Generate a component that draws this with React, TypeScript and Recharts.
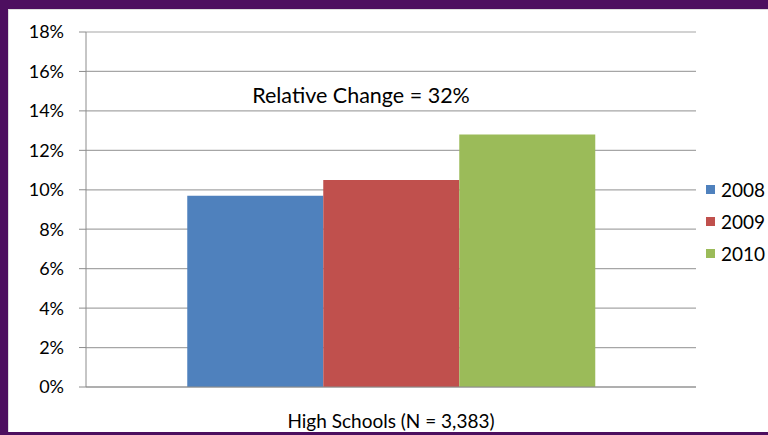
import { BarChart, Bar, XAxis, YAxis, CartesianGrid, ReferenceLine } from "recharts";

const categories = ["High Schools (N = 3,383)"];
const years = ["2008", "2009", "2010"];
const values2008 = [9.7];
const values2009 = [10.5];
const values2010 = [12.8];
const yTicks = [0, 2, 4, 6, 8, 10, 12, 14, 16, 18];
const note = "Relative Change = 32%";

const colors = ["#4F81BD", "#C0504D", "#9BBB59"];
const font = "Lato, 'Open Sans', sans-serif";

const data = categories.map((name, i) => ({
  name,
  "2008": values2008[i],
  "2009": values2009[i],
  "2010": values2010[i],
}));

export default function App() {
  return (
    <div
      style={{
        position: "absolute",
        left: 0,
        top: 0,
        width: 768,
        height: 435,
        background: "#4d0f5f",
        overflow: "hidden",
        fontFamily: font,
      }}
    >
      <div
        style={{
          position: "absolute",
          left: 8,
          top: 9,
          width: 760,
          height: 423,
          background: "#fff",
          borderTop: "1px solid #ddd",
          borderLeft: "1px solid #ddd",
          boxSizing: "border-box",
        }}
      />
      <div style={{ position: "absolute", left: 8, top: 9 }}>
        <BarChart
          width={760}
          height={423}
          data={data}
          margin={{ top: 23, right: 72, bottom: 0, left: 0 }}
          barCategoryGap="16.6%"
          barGap={0}
        >
          <CartesianGrid vertical={false} stroke="#a6a6a6" strokeWidth={1.2} />
          <XAxis
            dataKey="name"
            height={45}
            axisLine={{ stroke: "#8c8c8c" }}
            tickLine={false}
            tickSize={6}
            tickMargin={22}
            tick={{ fill: "#000", fontSize: 19, fontFamily: font }}
          />
          <YAxis
            width={78}
            domain={[0, 18]}
            ticks={yTicks}
            interval={0}
            tickFormatter={(v) => `${v}%`}
            axisLine={{ stroke: "#8c8c8c" }}
            tickLine={{ stroke: "#8c8c8c" }}
            tickSize={7}
            tickMargin={15}
            tick={{ fill: "#000", fontSize: 18, fontFamily: font }}
          />
          <ReferenceLine
            y={15}
            stroke="none"
            label={{
              value: note,
              position: "center",
              dx: -30,
              dy: 4,
              fill: "#000",
              fontSize: 21.5,
              fontFamily: font,
            }}
          />
          {years.map((y, i) => (
            <Bar key={y} dataKey={y} fill={colors[i]} isAnimationActive={false} />
          ))}
        </BarChart>
      </div>
      <div style={{ position: "absolute", left: 706, top: 173 }}>
        {years.map((y, i) => (
          <div
            key={y}
            style={{ display: "flex", alignItems: "center", height: 32, fontSize: 19, color: "#000" }}
          >
            <span style={{ width: 9, height: 9, background: colors[i], marginRight: 6 }} />
            {y}
          </div>
        ))}
      </div>
    </div>
  );
}
